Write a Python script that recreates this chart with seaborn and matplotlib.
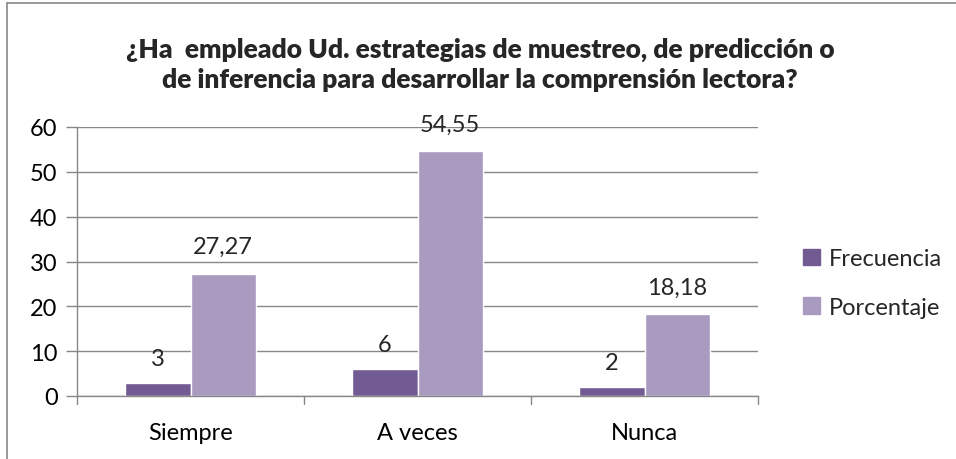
import matplotlib
matplotlib.use("Agg")
import matplotlib.pyplot as plt
import seaborn as sns
import pandas as pd
from matplotlib.lines import Line2D

categories = ["Siempre", "A veces", "Nunca"]
series_names = ["Frecuencia", "Porcentaje"]
frecuencia = [3, 6, 2]
porcentaje = [27.27, 54.55, 18.18]
frec_labels = ["3", "6", "2"]
porc_labels = ["27,27", "54,55", "18,18"]
y_ticks = [0, 10, 20, 30, 40, 50, 60]
title = ("¿Ha  empleado Ud. estrategias de muestreo, de predicción o\n"
         "de inferencia para desarrollar la comprensión lectora?")

df = pd.DataFrame({
    "cat": categories * 2,
    "serie": [series_names[0]] * 3 + [series_names[1]] * 3,
    "valor": frecuencia + porcentaje,
})

sns.set_theme(style="white")
plt.rcParams["font.family"] = ["Lato", "DejaVu Sans"]

FS = 17
W, H = 956, 460
fig = plt.figure(figsize=(W / 100, H / 100), dpi=100)
ax = fig.add_axes([77 / W, 63 / H, 681 / W, 269 / H])

palette = {"Frecuencia": "#725a92", "Porcentaje": "#a99bbf"}
sns.barplot(data=df, x="cat", y="valor", hue="serie", order=categories,
            hue_order=series_names, palette=palette, width=0.573,
            saturation=1, ax=ax, legend=False)

ax.set_ylim(0, 60)
ax.set_xlim(-0.5, 2.5)
ax.set_yticks(y_ticks)
ax.set_yticklabels([str(t) for t in y_ticks], fontsize=FS)
ax.tick_params(axis="x", labelsize=FS, length=0, pad=19, colors="black")
ax.tick_params(axis="y", length=8, width=1, color="#888888", left=True,
               direction="out", pad=6, labelcolor="black")
ax.set_xlabel("")
ax.set_ylabel("")
ax.yaxis.grid(True, color="#888888", linewidth=1)
ax.set_axisbelow(True)
for s in ["top", "right"]:
    ax.spines[s].set_visible(False)
ax.spines["left"].set_color("#888888")
ax.spines["bottom"].set_color("#888888")
ax.spines["left"].set_linewidth(1)
ax.spines["bottom"].set_linewidth(1)

# category boundary ticks on x axis
for xb in [-0.5, 0.5, 1.5, 2.5]:
    ax.plot([xb, xb], [0, -1.8], color="#888888", lw=1, clip_on=False)

# value labels
conts = ax.containers
ax.bar_label(conts[0], labels=frec_labels, padding=10, fontsize=FS)
ax.bar_label(conts[1], labels=porc_labels, padding=12, fontsize=FS)

fig.text(480 / W, 1 - 65 / H, title, ha="center", va="center",
         fontsize=19, fontweight="heavy", linespacing=1.3)

handles = [plt.Rectangle((0, 0), 1, 1, color=palette[s]) for s in series_names]
fig.legend(handles, series_names, loc="center left",
           bbox_to_anchor=(782 / W, 1 - 284 / H), frameon=False,
           fontsize=FS, handlelength=0.7, handleheight=0.7,
           handletextpad=0.4, labelspacing=1.15)

# outer chart border (top and left visible)
fig.add_artist(Line2D([6.5 / W, 6.5 / W], [0, 1 - 3.5 / H], transform=fig.transFigure,
                      color="#888888", lw=1.2))
fig.add_artist(Line2D([6.5 / W, 1], [1 - 3.5 / H, 1 - 3.5 / H], transform=fig.transFigure,
                      color="#888888", lw=1.2))

fig.savefig("out.png", dpi=100, facecolor="white")
